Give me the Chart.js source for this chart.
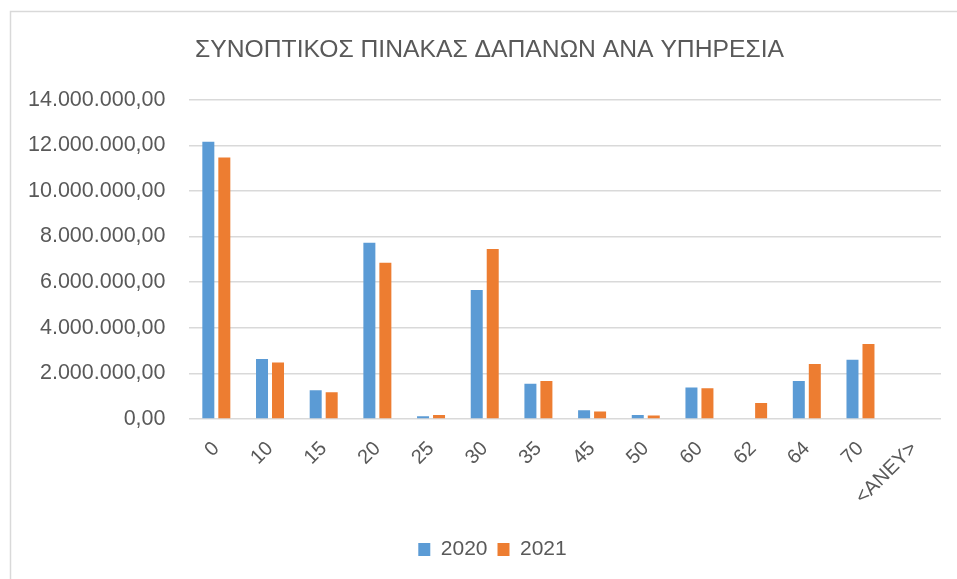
<!DOCTYPE html>
<html>
<head>
<meta charset="utf-8">
<script src="https://cdn.jsdelivr.net/npm/chart.js@4"></script>
<style>
html,body{margin:0;padding:0;background:#fff;}
#wrap{width:957px;height:579px;position:relative;}
</style>
</head>
<body>
<div id="wrap"><canvas id="c" width="957" height="579"></canvas></div>
<script>
const title = 'ΣΥΝΟΠΤΙΚΟΣ ΠΙΝΑΚΑΣ ΔΑΠΑΝΩΝ ΑΝΑ ΥΠΗΡΕΣΙΑ';
const categories = ['0','10','15','20','25','30','35','45','50','60','62','64','70','<ΑΝΕΥ>'];
const seriesNames = ['2020','2021'];
const values2020 = [12150000, 2630000, 1260000, 7730000, 120000, 5650000, 1540000, 380000, 180000, 1380000, 0, 1670000, 2600000, 0];
const values2021 = [11460000, 2480000, 1170000, 6850000, 180000, 7450000, 1670000, 330000, 150000, 1350000, 700000, 2410000, 3290000, 0];
const yMin = 0, yMax = 14000000, yStep = 2000000;

function fmtGr(v){
  const neg = v < 0; v = Math.abs(v);
  const fixed = v.toFixed(2);
  let [i, d] = fixed.split('.');
  i = i.replace(/\B(?=(\d{3})+(?!\d))/g, '.');
  return (neg?'-':'') + i + ',' + d;
}

const txt = '#595959';
const grid = '#D9D9D9';
const baseFont = 'Liberation Sans';

const framePlugin = {
  id: 'frame',
  beforeDraw(chart){
    const ctx = chart.ctx;
    ctx.save();
    ctx.fillStyle = '#fff';
    ctx.fillRect(0,0,chart.width,chart.height);
    ctx.strokeStyle = grid;
    ctx.lineWidth = 1.5;
    ctx.beginPath();
    ctx.moveTo(10.5, chart.height);
    ctx.lineTo(10.5, 11.5);
    ctx.lineTo(chart.width, 11.5);
    ctx.stroke();
    ctx.restore();
  },
  afterLayout(chart){
    const l = chart.legend;
    if (l) { const dx = 20; l.left += dx; l.right += dx; }
    const t = chart.titleBlock;
    if (t) { const dx = 17; t.left += dx; t.right += dx; }
  }
};

new Chart(document.getElementById('c'), {
  type: 'bar',
  data: {
    labels: categories,
    datasets: [
      {label: seriesNames[0], data: values2020, backgroundColor: '#5B9BD5', categoryPercentage: 0.596, barPercentage: 0.75},
      {label: seriesNames[1], data: values2021, backgroundColor: '#ED7D31', categoryPercentage: 0.596, barPercentage: 0.75}
    ]
  },
  options: {
    responsive: false,
    animation: false,
    devicePixelRatio: 1,
    layout: {padding: {left: 4, right: 16, top: 14, bottom: 9}},
    plugins: {
      title: {
        display: true, text: title, color: txt,
        font: {family: 'Liberation Sans Narrow, Liberation Sans', size: 24.7, weight: 'normal'},
        padding: {top: 21, bottom: 35}
      },
      legend: {
        position: 'bottom',
        labels: {color: txt, font: {family: baseFont, size: 21}, boxWidth: 12, boxHeight: 13, padding: 10}
      },
      tooltip: {enabled: false}
    },
    scales: {
      x: {
        grid: {display: false},
        border: {display: false},
        ticks: {color: txt, font: {family: baseFont, size: 20}, minRotation: 45, maxRotation: 45, padding: 10},
        afterFit(scale){ scale.height = 110; }
      },
      y: {
        min: yMin, max: yMax,
        grid: {color: grid, lineWidth: 1.5, drawTicks: false},
        border: {display: false},
        ticks: {stepSize: yStep, color: txt, font: {family: baseFont, size: 21.5}, padding: 24, callback: v => fmtGr(v)}
      }
    }
  },
  plugins: [framePlugin]
});
</script>
</body>
</html>
